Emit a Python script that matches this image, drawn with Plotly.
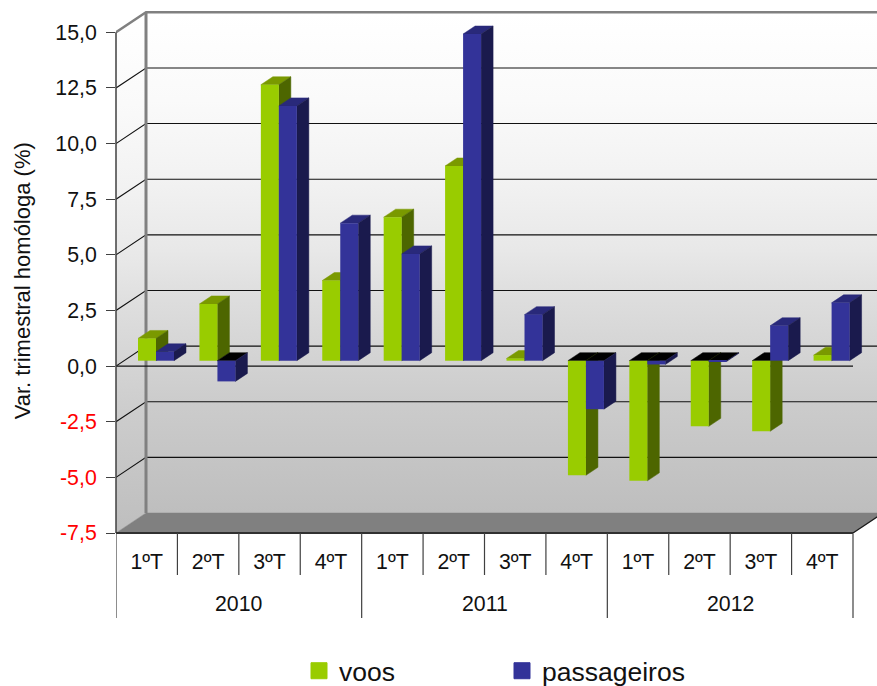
import plotly.graph_objects as go

# ---- data ----
quarters = ["1ºT", "2ºT", "3ºT", "4ºT"] * 3
years = ["2010", "2011", "2012"]
voos = [1.0, 2.55, 12.4, 3.6, 6.45, 8.75, 0.1, -5.15, -5.4, -2.95, -3.17, 0.25]
passageiros = [0.4, -0.93, 11.45, 6.18, 4.8, 14.68, 2.07, -2.18, -0.17, -0.03, 1.57, 2.6]
y_ticks = [15, 12.5, 10, 7.5, 5, 2.5, 0, -2.5, -5, -7.5]
y_labels = ["15,0", "12,5", "10,0", "7,5", "5,0", "2,5", "0,0", "-2,5", "-5,0", "-7,5"]

# ---- geometry (px -> axis units) ----
W, H = 877, 686
L, T_PX, B_PX = 116, 0, 533
CAT_PX = (853 - 116) / 12
UNIT_PX = 501 / 22.5
def xu(px): return px / CAT_PX
def yu(px): return px / UNIT_PX
WALL_DX, WALL_DY = xu(30), yu(20)
BAR_DX, BAR_DY = xu(9.3), yu(5.4)
DEPTH_DX, DEPTH_DY = xu(12), yu(8)
BAR_W = xu(18)
X_MAX = xu(W - L)
Y_MAX = 15 + yu(32.3)
N = len(quarters)
TXT = 21.3

def poly(points):
    xs, ys = [], []
    for pts in points:
        for a, b in pts:
            xs.append(a); ys.append(b)
        xs.append(pts[0][0]); ys.append(pts[0][1])
        xs.append(None); ys.append(None)
    return xs, ys

def faces(values, shift):
    side, top_pos, top_neg = [], [], []
    for i, v in enumerate(values):
        x1 = i + 0.5 + BAR_DX + shift + BAR_W / 2
        x0 = x1 - BAR_W
        z = BAR_DY
        e = z + v
        hi = max(z, e)
        side.append([(x1, z), (x1, e), (x1 + DEPTH_DX, e + DEPTH_DY), (x1 + DEPTH_DX, z + DEPTH_DY)])
        t = [(x0, hi), (x1, hi), (x1 + DEPTH_DX, hi + DEPTH_DY), (x0 + DEPTH_DX, hi + DEPTH_DY)]
        (top_pos if v >= 0 else top_neg).append(t)
    return side, top_pos, top_neg

fig = go.Figure()
def fill_trace(pts, color, zorder, **kw):
    xs, ys = poly(pts)
    fig.add_trace(go.Scatter(x=xs, y=ys, mode="lines", fill="toself", fillcolor=color,
                             line=dict(width=0.5, color=color), hoverinfo="skip",
                             showlegend=False, zorder=zorder, **kw))

def line_trace(xs, ys, color, width, zorder=0):
    fig.add_trace(go.Scatter(x=xs, y=ys, mode="lines", line=dict(color=color, width=width),
                             hoverinfo="skip", showlegend=False, zorder=zorder))

GRAD = [[0, "#BEBEBE"], [0.225, "#CCCCCC"], [0.425, "#DDDDDD"], [0.525, "#E8E8E8"],
        [0.665, "#F2F2F2"], [0.824, "#FAFAFA"], [1, "#FFFFFF"]]
# back wall and left wall
for pts in (
    [(WALL_DX, -7.5 + WALL_DY), (X_MAX + 1, -7.5 + WALL_DY), (X_MAX + 1, 15 + WALL_DY), (WALL_DX, 15 + WALL_DY)],
    [(0, -7.5), (WALL_DX, -7.5 + WALL_DY), (WALL_DX, 15 + WALL_DY), (0, 15)],
):
    xs, ys = poly([pts])
    fig.add_trace(go.Scatter(x=xs, y=ys, mode="lines", fill="toself", line=dict(width=0),
                             fillgradient=dict(type="vertical", colorscale=GRAD),
                             hoverinfo="skip", showlegend=False, zorder=0))

# floor
fill_trace([[(0, -7.5), (12, -7.5), (12 + WALL_DX, -7.5 + WALL_DY), (WALL_DX, -7.5 + WALL_DY)]], "#808080", 0)

# gridlines on the walls
for v in y_ticks[1:-1]:
    line_trace([0, WALL_DX, X_MAX + 1], [v, v + WALL_DY, v + WALL_DY], "#111111", 1.1)
# wall frame
line_trace([0, WALL_DX, X_MAX + 1], [15, 15 + WALL_DY, 15 + WALL_DY], "#808080", 2.5)
line_trace([WALL_DX, WALL_DX], [15 + WALL_DY, -7.5 + WALL_DY], "#808080", 3)
line_trace([12, 12 + WALL_DX], [-7.5, -7.5 + WALL_DY], "#1A1A1A", 1.2)
# zero line on the front plane
line_trace([0, 12], [0, 0], "#111111", 1.4, zorder=1)

# bars
for name, vals, shift, front, side_c, top_c, z in (
    ("voos", voos, -BAR_W / 2, "#99CC00", "#4D6600", "#7A9900", 2),
    ("passageiros", passageiros, BAR_W / 2, "#333399", "#1A1A4D", "#29297A", 4),
):
    side, top_pos, top_neg = faces(vals, shift)
    fill_trace(top_pos, top_c, z)
    fill_trace(top_neg, "#000000", z)
    fill_trace(side, side_c, z)
    fig.add_trace(go.Bar(x=[i + 0.5 + BAR_DX + shift for i in range(N)], y=vals, base=[BAR_DY] * N,
                         width=BAR_W, marker=dict(color=front, line=dict(width=0)),
                         showlegend=False, zorder=z + 1, hovertemplate=name + ": %{y}<extra></extra>"))
    # legend entry
    fig.add_trace(go.Scatter(x=[None], y=[None], mode="markers", name=name,
                             marker=dict(symbol="square", size=16, color=front, line=dict(color=front, width=1))))

shapes = []
# front axis line, drawn unclipped
shapes.append(dict(type="line", xref="paper", yref="y", x0=0, x1=0, y0=-7.5, y1=15,
                   line=dict(color="#404040", width=1.5), layer="above"))
shapes.append(dict(type="line", xref="x", yref="paper", x0=0, x1=12, y0=0, y1=0,
                   line=dict(color="#303030", width=2), layer="above"))
for i in range(N + 1):
    depth = 85 if i % 4 == 0 else 42
    shapes.append(dict(type="line", xref="x", yref="paper", x0=i, x1=i, y0=0, y1=-depth / B_PX,
                       line=dict(color="#404040", width=1.2), layer="above"))

annotations = [dict(x=2 + 4 * k, y=-71 / B_PX, xref="x", yref="paper", text=yr, showarrow=False,
                    font=dict(size=TXT), yanchor="middle") for k, yr in enumerate(years)]
annotations.append(dict(x=-94 / (W - L), y=(366.3 - 281.5) / UNIT_PX, xref="paper", yref="y",
                        text="Var. trimestral homóloga (%)", showarrow=False,
                        textangle=-90, font=dict(size=22), xanchor="center", yanchor="middle"))

y_text = [f'<span style="color:red">{s}</span>' if v < 0 else s for v, s in zip(y_ticks, y_labels)]

fig.update_layout(
    width=W, height=H, margin=dict(l=L, r=0, t=T_PX, b=H - B_PX, autoexpand=False),
    paper_bgcolor="white", plot_bgcolor="white", barmode="overlay",
    font=dict(family="Liberation Sans, Arial, sans-serif", size=TXT, color="#111111"),
    xaxis=dict(range=[0, X_MAX], tickmode="array", tickvals=[i + 0.5 for i in range(N)], ticktext=quarters,
               showgrid=False, zeroline=False, showline=False, ticks="outside", ticklen=9,
               tickcolor="rgba(0,0,0,0)", tickfont=dict(size=TXT)),
    yaxis=dict(range=[-7.5, Y_MAX], tickmode="array", tickvals=y_ticks, ticktext=y_text,
               showgrid=False, zeroline=False, showline=False, ticks="outside", ticklen=9,
               tickcolor="#404040", tickwidth=1.2, tickfont=dict(size=TXT), ticklabelstandoff=5),
    legend=dict(orientation="h", x=(299 - L) / (W - L), xanchor="left", y=(533 - 647) / B_PX, yanchor="top",
                font=dict(size=26.5), itemsizing="trace", entrywidth=158, entrywidthmode="pixels",
                bgcolor="rgba(0,0,0,0)"),
    shapes=shapes, annotations=annotations,
)

fig.write_html("out.html", config=dict(displayModeBar=False),
               post_script="document.body.style.margin='0';document.body.style.overflow='hidden';")
